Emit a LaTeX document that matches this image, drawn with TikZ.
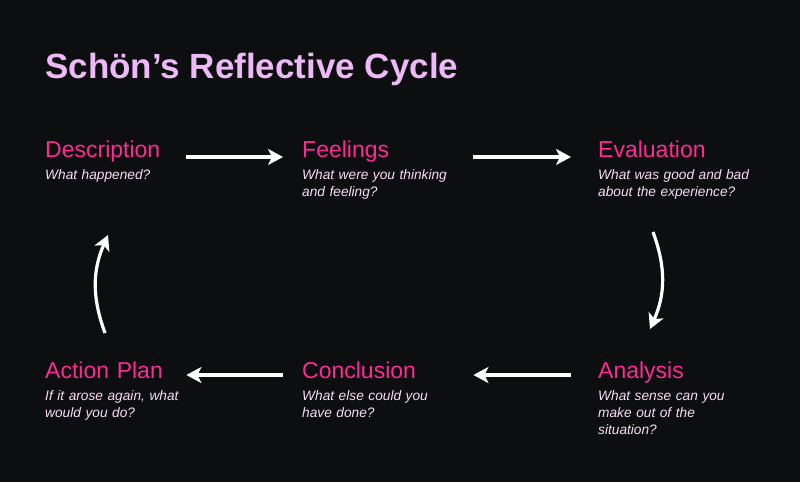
\documentclass[tikz,border=0pt]{standalone}
\usepackage{fontspec}
\setmainfont{Liberation Sans}
\usepackage{tikz}
\usetikzlibrary{arrows.meta}
\usepackage{xcolor}
\definecolor{bgdark}{HTML}{0D0E10}
\definecolor{lilac}{HTML}{EDB9F7}
\definecolor{hotpink}{HTML}{FF2A93}
\definecolor{blush}{HTML}{F8DDF3}
\tikzset{
  % Arrow tip shared by all connectors
  >={Stealth[length=15pt,width=16pt,inset=4pt]},
  % Common styles for the cycle
  line/.style={draw=white, line width=3.2pt, ->},
  title/.style={anchor=base west, inner sep=0pt, text=lilac, font=\fontsize{35}{40}\selectfont\bfseries},
  stage/.style={anchor=base west, inner sep=0pt, text=hotpink, text width=#1, align=left, font=\fontsize{23}{27}\selectfont},
  question/.style={anchor=base west, inner sep=0pt, text=blush, text width=180pt, align=left, font=\fontsize{13.7}{17}\selectfont\itshape}
}

\begin{document}
\begin{tikzpicture}[x=1pt,y=1pt]
        \fill[bgdark] (0,0) rectangle (800,-482);
        \useasboundingbox (0,0) rectangle (800,-482);

        % Define nodes
        \node[title] (head) at (45,-78) {Schön’s Reflective Cycle};
        \node[stage=122pt] (desc) at (45,-157.5) {Description};
        \node[question] (descq) at (45,-179.5) {What happened?};
        \node[stage=144pt] (feel) at (302,-157.5) {Feelings};
        \node[question] (feelq) at (302,-179.5) {What were you thinking\\and feeling?};
        \node[stage=160pt] (eval) at (598,-157.5) {Evaluation};
        \node[question] (evalq) at (598,-179.5) {What was good and bad\\about the experience?};
        \node[stage=160pt] (anal) at (598,-378.3) {Analysis};
        \node[question] (analq) at (598,-400.7) {What sense can you\\make out of the\\situation?};
        \node[stage=144pt] (concl) at (302,-378.3) {Conclusion};
        \node[question] (conclq) at (302,-400.7) {What else could you\\have done?};
        \node[stage=122pt] (act) at (45,-378.3) {Action Plan};
        \node[question] (actq) at (45,-400.7) {If it arose again, what\\would you do?};

        % Define connections
        \path [line, shorten <=19pt, shorten >=19pt] ([yshift=0.5pt]desc.base east) -- ([yshift=0.5pt]feel.base west);
        \path [line, shorten <=27pt, shorten >=27pt] ([yshift=0.5pt]feel.base east) -- ([yshift=0.5pt]eval.base west);
        \path [line] ([shift={(55pt,-52.5pt)}]evalq.base west) to[bend left=22] ([shift={(52pt,49.3pt)}]anal.base west);
        \path [line, shorten <=27pt, shorten >=27pt] ([yshift=3.3pt]anal.base west) -- ([yshift=3.3pt]concl.base east);
        \path [line, shorten <=19pt, shorten >=19pt] ([yshift=3.3pt]concl.base west) -- ([yshift=3.3pt]act.base east);
        \path [line] ([shift={(60pt,45.3pt)}]act.base west) to[bend left=22] ([shift={(63pt,-55.5pt)}]descq.base west);
    \end{tikzpicture}
\end{document}
